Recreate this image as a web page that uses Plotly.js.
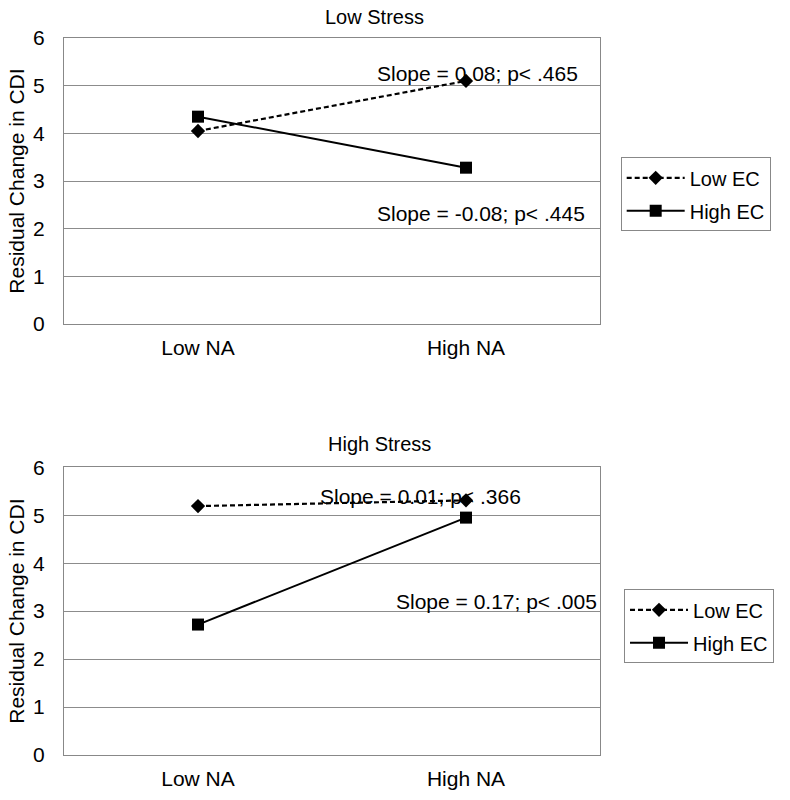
<!DOCTYPE html>
<html>
<head>
<meta charset="utf-8">
<script src="https://cdn.plot.ly/plotly-3.0.1.min.js"></script>
<style>html,body{margin:0;padding:0;background:#fff;}</style>
</head>
<body>
<div id="chart" style="width:790px;height:800px;"></div>
<script>
// Data
const categories = ["Low NA", "High NA"];
const lowStressLowEC = [4.05, 5.1];
const lowStressHighEC = [4.35, 3.28];
const highStressLowEC = [5.19, 5.31];
const highStressHighEC = [2.72, 4.95];
const seriesNames = ["Low EC", "High EC"];
const panelTitles = ["Low Stress", "High Stress"];
const slopeLabels = [
  "Slope = 0.08; p< .465",
  "Slope = -0.08; p< .445",
  "Slope = 0.01; p< .366",
  "Slope = 0.17; p< .005"
];
const yTicks = [0, 1, 2, 3, 4, 5, 6];

const FONT = "Liberation Sans, Arial, sans-serif";
const dashStyle = {color: "#000", width: 2.2, dash: "5px,3px"};
const solidStyle = {color: "#000", width: 2};

const traces = [
  {x: categories, y: lowStressLowEC, name: seriesNames[0], xaxis: "x", yaxis: "y", mode: "lines+markers",
   line: dashStyle, marker: {symbol: "diamond", size: 11, color: "#000"}, legend: "legend", legendgroup: "a"},
  {x: categories, y: lowStressHighEC, name: seriesNames[1], xaxis: "x", yaxis: "y", mode: "lines+markers",
   line: solidStyle, marker: {symbol: "square", size: 12, color: "#000"}, legend: "legend", legendgroup: "b"},
  {x: categories, y: highStressLowEC, name: seriesNames[0], xaxis: "x2", yaxis: "y2", mode: "lines+markers",
   line: dashStyle, marker: {symbol: "diamond", size: 11, color: "#000"}, legend: "legend2", legendgroup: "c"},
  {x: categories, y: highStressHighEC, name: seriesNames[1], xaxis: "x2", yaxis: "y2", mode: "lines+markers",
   line: solidStyle, marker: {symbol: "square", size: 12, color: "#000"}, legend: "legend2", legendgroup: "d"}
];

function xAxis(anchor) {
  return {
    anchor: anchor, domain: [0, 1], type: "category", range: [-0.5, 1.5],
    showgrid: false, zeroline: false, showline: true, linecolor: "#888", linewidth: 1, mirror: true,
    ticks: "", ticklabelstandoff: 5,
    tickfont: {family: FONT, size: 21, color: "#000"}, fixedrange: true
  };
}
function yAxis(anchor, domain) {
  return {
    anchor: anchor, domain: domain, range: [0, 6], tickvals: yTicks,
    showgrid: true, gridcolor: "#8c8c8c", gridwidth: 1, zeroline: false,
    showline: true, linecolor: "#888", linewidth: 1, mirror: true,
    ticks: "", ticklabelstandoff: 14,
    tickfont: {family: FONT, size: 21, color: "#000"},
    title: {text: "Residual Change in CDI", font: {family: FONT, size: 21, color: "#000"}, standoff: 2},
    fixedrange: true
  };
}

const legendBase = {
  orientation: "v", xref: "paper", yref: "paper", xanchor: "left", yanchor: "top",
  bgcolor: "#fff", bordercolor: "#888", borderwidth: 1,
  font: {family: FONT, size: 20, color: "#000"}, itemwidth: 58, tracegroupgap: 4
};

const ann = (text, x, y, size, anchor) => ({
  text: text, xref: "paper", yref: "paper", x: x, y: y, xanchor: anchor, yanchor: "middle",
  showarrow: false, font: {family: FONT, size: size, color: "#000"}
});

const layout = {
  width: 790, height: 800,
  margin: {l: 64, r: 190, t: 38, b: 45},
  paper_bgcolor: "#fff", plot_bgcolor: "#fff",
  showlegend: true,
  xaxis: xAxis("y"),
  yaxis: yAxis("x", [0.601, 1]),
  xaxis2: xAxis("y2"),
  yaxis2: yAxis("x2", [0, 0.4013]),
  legend: Object.assign({}, legendBase, {x: 1.0386, y: 0.8336}),
  legend2: Object.assign({}, legendBase, {x: 1.0448, y: 0.2311}),
  annotations: [
    ann(panelTitles[0], 0.580, 1.0293, 20, "center"),
    ann(panelTitles[1], 0.588, 0.4338, 20, "center"),
    ann(slopeLabels[0], 0.580, 0.9498, 21, "left"),
    ann(slopeLabels[1], 0.580, 0.7559, 21, "left"),
    ann(slopeLabels[2], 0.4748, 0.3603, 21, "left"),
    ann(slopeLabels[3], 0.6151, 0.2138, 21, "left")
  ]
};

Plotly.newPlot("chart", traces, layout, {staticPlot: true, displayModeBar: false});
</script>
</body>
</html>
